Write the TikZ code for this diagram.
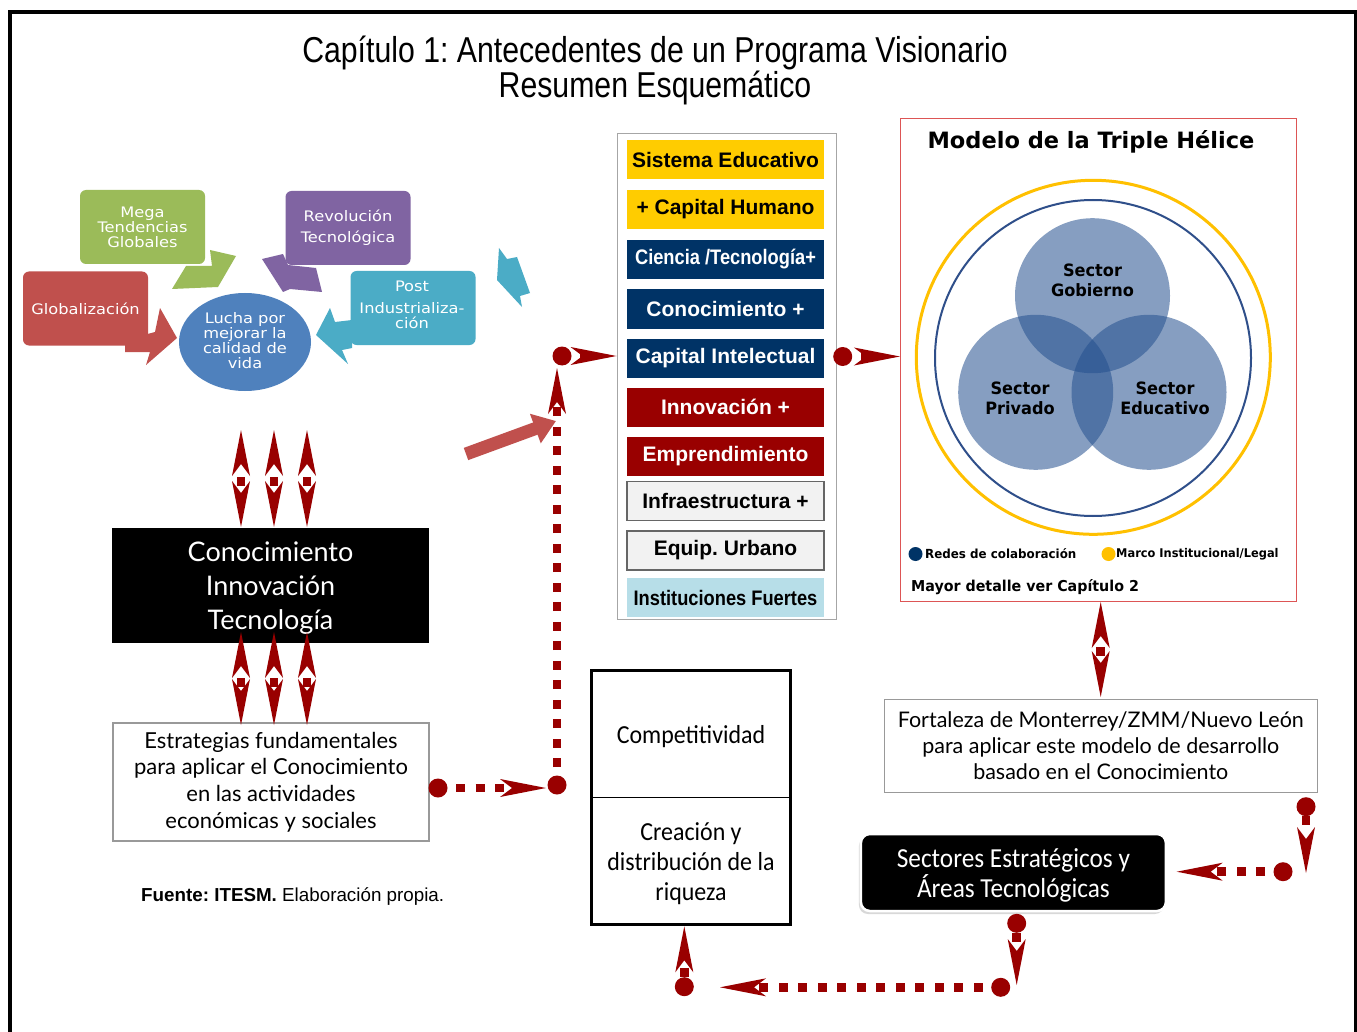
\documentclass[tikz,border=0pt]{standalone}
\usepackage{fontspec}
\setmainfont{Liberation Sans}
\newfontfamily\titlef[FakeStretch=0.84]{Liberation Sans}
\newfontfamily\colnarrow[FakeStretch=0.87]{Liberation Sans}
\newfontfamily\verd{DejaVu Sans}
\newfontfamily\verdw[FakeStretch=1.12]{DejaVu Sans}
\newfontfamily\verdc[FakeStretch=0.95]{DejaVu Sans}
\newfontfamily\latof{Lato}
\newfontfamily\carl[FakeStretch=0.92]{Carlito}
\usetikzlibrary{arrows.meta,shadows}
\frenchspacing

\definecolor{dred}{HTML}{990000}
\definecolor{sgreen}{HTML}{9BBB59}
\definecolor{sred}{HTML}{C0504D}
\definecolor{spurple}{HTML}{8064A2}
\definecolor{steal}{HTML}{4BACC6}
\definecolor{sblue}{HTML}{4F81BD}
\definecolor{cyel}{HTML}{FFCC00}
\definecolor{cnavy}{HTML}{003366}
\definecolor{cgray}{HTML}{F2F2F2}
\definecolor{ccyan}{HTML}{B7DEE8}
\definecolor{hred}{HTML}{DD5555}
\definecolor{hyel}{HTML}{FFC000}
\definecolor{hnavy}{HTML}{2F4F8A}
\definecolor{hblue}{HTML}{24508F}

\tikzset{
  rhead/.tip={Stealth[length=46pt 0 0,width=18pt 0 0,inset=12pt 0,line width=0pt 0 0]},
  rdot/.tip={Circle[length=19pt 0 0,line width=0pt 0 0]},
  dcon/.style={draw=dred, line width=8.5pt, dash pattern=on 9pt off 10.5pt, dash phase=11pt},
  dshort/.style={draw=dred, line width=8.5pt, dash pattern=on 0pt off #1 on 9pt off 80pt},
  smbox/.style={rounded corners=6pt, minimum width=125pt, minimum height=74pt, text=white,
    align=center, inner sep=1pt, font=\verdw\fontsize{14.5}{15}\selectfont},
  smarrow/.style={fill=#1, draw=none},
  colbox/.style={minimum width=197pt, minimum height=39pt, inner sep=0pt,
    font=\bfseries\fontsize{21}{24}\selectfont},
  graybox/.style={draw=gray!80, line width=1.2pt, align=center, inner sep=0pt},
  sector/.style={circle, minimum size=155pt, inner sep=0pt, fill=hblue, fill opacity=0.55},
  seclabel/.style={align=center, font=\verdc\bfseries\fontsize{17}{20}\selectfont},
}

\begin{document}
\begin{tikzpicture}[x=1pt,y=-1pt]
\useasboundingbox (0,0) rectangle (1357,1032);
\fill[white] (0,0) rectangle (1357,1032);

% outer frame
\draw[line width=4pt] (10,1040) -- (10,12) -- (1355.5,12) -- (1355.5,1040);

% title
\node[font=\titlef\fontsize{36}{33}\selectfont, align=center] (title) at (655,70)
  {Capítulo 1: Antecedentes de un Programa Visionario\\Resumen Esquemático};

% ---------- SmartArt cluster ----------
\fill[smarrow=sgreen] (172,289) -- (186,266) -- (212,266) -- (210,250) -- (236,256) -- (218,287) -- cycle;
\fill[smarrow=sred] (125,352) -- (125,340) -- (155,332) -- (160,308) -- (177,338) -- (146,365) -- (150,352) -- cycle;
\fill[smarrow=spurple] (262,259) -- (283,254) -- (288,265) -- (316,268) -- (322,292) -- (290,289) -- (283,292) -- cycle;
\fill[smarrow=steal] (316,335) -- (330,308) -- (335,322) -- (352,320) -- (352,348) -- (342,350) -- (348,364) -- cycle;
\fill[smarrow=steal] (499,248) -- (507,259) -- (517,257) -- (530,293) -- (520,296) -- (522,307) -- (497,280) -- cycle;

\node[smbox, fill=sgreen] (mega) at (142.5,227) {Mega\\Tendencias\\Globales};
\node[smbox, fill=sred] (globa) at (85.5,308.5) {Globalización};
\node[smbox, fill=spurple] (revo) at (348,228) {Revolución\\[6pt]Tecnológica};
\node[smbox, fill=steal] (post) at (413,308) {};
\node[align=center, text=white, inner sep=0pt, font=\verdw\fontsize{14.5}{15}\selectfont] (postt) at (412,305)
  {Post\\[7pt]Industrializa-\\ción};
\fill[sblue] (245,342) ellipse [x radius=66pt, y radius=49pt];
\node[align=center, text=white, font=\verdw\fontsize{14.5}{15}\selectfont] (lucha) at (245,340.5)
  {Lucha por\\mejorar la\\calidad de\\vida};

% ---------- Conocimiento block ----------
\node[fill=black, minimum width=317pt, minimum height=115pt, inner sep=0pt] (cit) at (270.5,585.5) {};
\node[text=white, align=center, inner sep=0pt, font=\latof\fontsize{27}{34}\selectfont] (citt) at (270.5,588)
  {Conocimiento\\Innovación\\Tecnología};
\node[graybox, minimum width=316pt, minimum height=118pt, font=\latof\fontsize{22}{26.7}\selectfont]
  (estr) at (271,782) {Estrategias fundamentales\\para aplicar el Conocimiento\\en las actividades\\económicas y sociales};

\foreach \xx/\nm in {241/u1,274/u2,307/u3}{
  \coordinate (\nm a) at (\xx,430);
  \coordinate (\nm b) at (\xx,527);
  \draw[dshort=13pt, rhead-rhead] (\nm a) -- (\nm b);
}
\foreach \xx/\nm in {241/l1,274/l2,307/l3}{
  \coordinate (\nm a) at (\xx,632);
  \coordinate (\nm b) at (\xx,725);
  \draw[dshort=12pt, rhead-rhead] (\nm a) -- (\nm b);
}

% big salmon arrow
\coordinate (sa1) at (466,454);
\coordinate (sa2) at (556,421);
\draw[sred, line width=13pt, -{Triangle[length=22pt 0 0,width=30pt 0 0]}] (sa1) -- (sa2);

% ---------- central column ----------
\node[draw=gray!70, line width=1pt, minimum width=219pt, minimum height=485pt, inner sep=0pt] (col) at (726.5,376.5) {};
\node[colbox, fill=cyel] (sist) at (725.5,159.5) {Sistema Educativo};
\node[colbox, fill=cyel] (caph) at (725.5,209.5) {+ Capital Humano};
\node[colbox, fill=cnavy, text=white, font=\colnarrow\bfseries\fontsize{21}{24}\selectfont] (cien) at (725.5,259.5) {Ciencia /Tecnología+};
\node[colbox, fill=cnavy, text=white] (cono) at (725.5,309) {Conocimiento +};
\node[colbox, fill=cnavy, text=white] (capi) at (725.5,358.5) {Capital Intelectual};
\node[colbox, fill=dred, text=white] (inno) at (725.5,407) {Innovación +};
\node[colbox, fill=dred, text=white] (empr) at (725.5,456.5) {Emprendimiento};
\node[colbox, fill=cgray, draw=gray!80!black, line width=1.2pt] (infr) at (725.5,501) {Infraestructura +};
\node[colbox, fill=cgray, draw=gray!80!black, line width=1.2pt] (equi) at (725.5,550.5) {Equip. Urbano};
\node[colbox, fill=ccyan, font=\colnarrow\bfseries\fontsize{21}{24}\selectfont] (inst) at (725.5,597.5) {Instituciones Fuertes};

% ---------- Triple helix ----------
\node[draw=hred, line width=1.2pt, minimum width=396pt, minimum height=483pt, inner sep=0pt] (helix) at (1098.5,360) {};
\node[font=\verd\bfseries\fontsize{22.5}{24}\selectfont] (htitle) at (1091,142) {Modelo de la Triple Hélice};
\draw[hyel, line width=3pt] (1093.3,357.3) circle [radius=177pt];
\draw[hnavy, line width=2pt] (1093,358) circle [radius=158pt];
\node[sector] (gob) at (1092.5,295.7) {};
\node[sector] (pri) at (1035.7,392.3) {};
\node[sector] (edu) at (1149,392.3) {};
\node[seclabel] (tgob) at (1092.5,280) {Sector\\Gobierno};
\node[seclabel] (tpri) at (1020,398) {Sector\\Privado};
\node[seclabel] (tedu) at (1165,398) {Sector\\Educativo};
\fill[cnavy] (915.5,554) circle [radius=7pt];
\fill[hyel] (1108.5,554) circle [radius=7pt];
\node[anchor=west, inner sep=0pt, font=\verdc\bfseries\fontsize{12.5}{14}\selectfont] (redes) at (925,554) {Redes de colaboración};
\node[anchor=west, inner sep=0pt, font=\verdc\bfseries\fontsize{12}{14}\selectfont] (marco) at (1116,554) {Marco Institucional/Legal};
\node[anchor=west, inner sep=0pt, font=\verdc\bfseries\fontsize{15}{16}\selectfont] (mayor) at (911,587) {Mayor detalle ver Capítulo 2};

% ---------- right lower ----------
\node[graybox, minimum width=433pt, minimum height=93pt, font=\latof\fontsize{21.5}{26}\selectfont]
  (forta) at (1100.8,745.7) {Fortaleza de Monterrey/ZMM/Nuevo León\\para aplicar este modelo de desarrollo\\basado en el Conocimiento};
\node[fill=black, rounded corners=9pt, draw=white, line width=2.5pt,
  drop shadow={shadow xshift=-2pt,shadow yshift=-3pt,opacity=0.3},
  minimum width=305pt, minimum height=77pt, inner sep=0pt] (sect) at (1013.4,872.5) {};
\node[text=white, align=center, inner sep=0pt, font=\carl\fontsize{27.5}{30}\selectfont] (sectt) at (1013.4,875)
  {Sectores Estratégicos y\\Áreas Tecnológicas};

% ---------- Competitividad ----------
\node[draw=black, line width=3pt, minimum width=199pt, minimum height=254pt, inner sep=0pt] (comp) at (691.3,797.8) {};
\draw[line width=1.2pt] (comp.west |- 0,797.7) -- (comp.east |- 0,797.7);
\node[font=\carl\fontsize{26}{30}\selectfont] (compt) at (691,737) {Competitividad};
\node[align=center, font=\carl\fontsize{26}{30}\selectfont] (crea) at (691,864) {Creación y\\distribución de la\\riqueza};

% fuente
\node[anchor=west, inner sep=0pt, font=\fontsize{18.8}{22}\selectfont] (fuente) at (141,897)
  {\textbf{Fuente: ITESM.} Elaboración propia.};

% ---------- connectors ----------
\coordinate (a1) at (428.5,788);
\coordinate (a2) at (546,788);
\draw[dcon, rdot-rhead] (a1) -- (a2);
\coordinate (b1) at (557,794.5);
\coordinate (b2) at (557,368);
\draw[dcon, rdot-rhead] (b1) -- (b2);
\coordinate (c1) at (552.5,356);
\draw[dcon, rdot-rhead] (c1) -- (col.west |- c1);
\coordinate (d1) at (833.2,356.5);
\draw[dcon, rdot-rhead] (d1) -- (helix.west |- d1);
\coordinate (e1) at (1100.7,602);
\coordinate (e2) at (1100.7,697);
\draw[dshort=11pt, rhead-rhead] (e1) -- (e2);
\coordinate (f1) at (1306,797.2);
\coordinate (f2) at (1306,873);
\draw[dshort=0pt, rdot-rhead] (f1) -- (f2);
\coordinate (g1) at (1292.5,871.7);
\coordinate (g2) at (1176.7,871.7);
\draw[dcon, rdot-rhead] (g1) -- (g2);
\coordinate (h1) at (1016.7,913.8);
\coordinate (h2) at (1016.7,985);
\draw[dshort=0pt, rdot-rhead] (h1) -- (h2);
\coordinate (i1) at (1010.2,987.3);
\coordinate (i2) at (720,987.3);
\draw[dcon, rdot-rhead] (i1) -- (i2);
\coordinate (j1) at (684.3,996.2);
\draw[dshort=0pt, rdot-rhead] (j1) -- (comp.south -| j1);
\end{tikzpicture}
\end{document}
